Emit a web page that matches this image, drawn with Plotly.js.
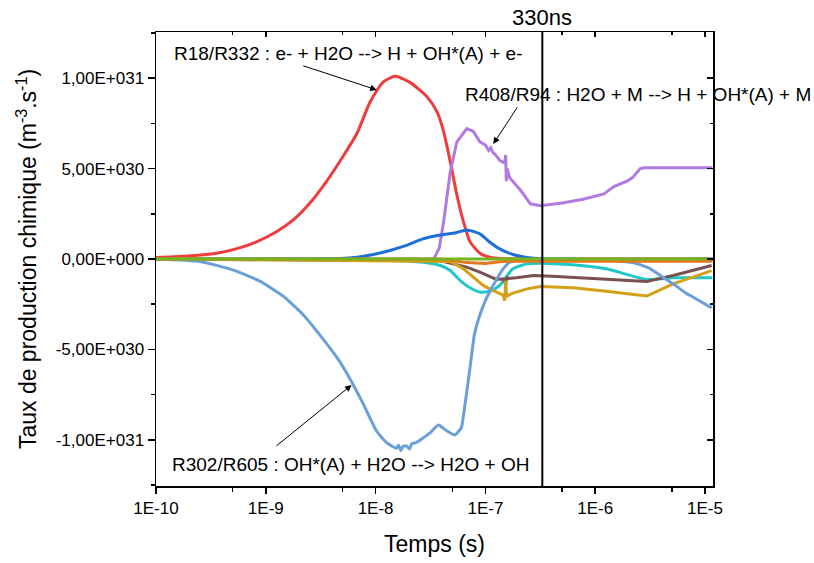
<!DOCTYPE html>
<html>
<head>
<meta charset="utf-8">
<script src="https://cdn.plot.ly/plotly-3.0.1.min.js"></script>
<style>html,body{margin:0;padding:0;background:#fff;}#chart{width:814px;height:563px;}</style>
</head>
<body>
<div id="chart"></div>
<script>
// ---- data (time in s, production rate in m^-3.s^-1) ----
const redT = [1e-10, 1.78e-10, 3.55e-10, 5.37e-10, 8.32e-10, 1.26e-9, 1.78e-9, 2.51e-9, 3.55e-9, 5.13e-9, 6.76e-9, 8.91e-9, 1.17e-8, 1.51e-8, 2.04e-8, 2.95e-8, 3.63e-8, 4.17e-8, 4.79e-8, 5.50e-8, 6.31e-8, 7.24e-8, 8.91e-8, 1.10e-7, 1.41e-7, 3.16e-7, 1.17e-5];
const redV = [0.08e30, 0.15e30, 0.32e30, 0.56e30, 0.96e30, 1.52e30, 2.16e30, 3.08e30, 4.27e30, 5.74e30, 6.94e30, 8.68e30, 9.78e30, 10.1e30, 9.78e30, 8.96e30, 8.13e30, 7.03e30, 5.37e30, 3.54e30, 2.07e30, 0.96e30, 0.32e30, 0.1e30, 0.02e30, 0, 0];

const purpleT = [1e-10, 3.39e-8, 3.80e-8, 4.17e-8, 4.79e-8, 5.50e-8, 6.76e-8, 7.76e-8, 8.91e-8, 1.00e-7, 1.07e-7, 1.12e-7, 1.17e-7, 1.26e-7, 1.35e-7, 1.50e-7, 1.53e-7, 1.55e-7, 1.58e-7, 1.66e-7, 2.09e-7, 2.57e-7, 3.16e-7, 5.01e-7, 7.76e-7, 1.07e-6, 1.20e-6, 1.48e-6, 1.74e-6, 1.95e-6, 2.19e-6, 2.57e-6, 2.85e-6, 1.17e-5];
const purpleV = [0, 0, 0.6e30, 2.07e30, 4.82e30, 6.48e30, 7.21e30, 7.05e30, 6.48e30, 6.3e30, 6.0e30, 6.15e30, 5.9e30, 5.7e30, 5.45e30, 5.3e30, 5.75e30, 4.3e30, 5.0e30, 4.5e30, 3.8e30, 3.05e30, 2.95e30, 3.1e30, 3.3e30, 3.55e30, 3.6e30, 4.0e30, 4.2e30, 4.3e30, 4.5e30, 5.0e30, 5.05e30, 5.05e30];

const blueT = [1e-10, 4.79e-9, 6.76e-9, 9.55e-9, 1.35e-8, 1.91e-8, 2.69e-8, 3.89e-8, 5.37e-8, 6.76e-8, 8.91e-8, 1.10e-7, 1.35e-7, 1.78e-7, 2.40e-7, 3.24e-7, 1.17e-5];
const blueV = [0, 0.03e30, 0.1e30, 0.25e30, 0.47e30, 0.75e30, 1.11e30, 1.33e30, 1.45e30, 1.61e30, 1.39e30, 0.93e30, 0.56e30, 0.25e30, 0.08e30, 0.01e30, 0];

const steelT = [1e-10, 2.51e-10, 5.01e-10, 8.91e-10, 1.45e-9, 2.19e-9, 3.09e-9, 4.47e-9, 5.89e-9, 7.76e-9, 1.02e-8, 1.26e-8, 1.55e-8, 1.62e-8, 1.70e-8, 1.78e-8, 1.91e-8, 2.04e-8, 2.14e-8, 2.34e-8, 2.63e-8, 3.16e-8, 3.72e-8, 4.47e-8, 5.25e-8, 6.03e-8, 6.46e-8, 7.24e-8, 7.94e-8, 8.91e-8, 1.00e-7, 1.12e-7, 1.26e-7, 1.45e-7, 1.66e-7, 2.09e-7, 3.55e-7, 1.07e-6, 2.29e-6, 2.95e-6, 3.16e-6, 4.37e-6, 5.13e-6, 6.76e-6, 7.76e-6, 1.15e-5];
const steelV = [0, -0.14e30, -0.60e30, -1.24e30, -2.07e30, -3.08e30, -4.18e30, -5.47e30, -6.66e30, -8.04e30, -9.51e30, -10.15e30, -10.46e30, -10.3e30, -10.6e30, -10.35e30, -10.34e30, -10.5e30, -10.2e30, -10.15e30, -9.95e30, -9.6e30, -9.18e30, -9.51e30, -9.73e30, -9.33e30, -8.22e30, -6.02e30, -4.18e30, -3.1e30, -2.3e30, -1.7e30, -1.15e30, -0.55e30, -0.18e30, -0.05e30, 0, -0.06e30, -0.22e30, -0.45e30, -0.53e30, -1.1e30, -1.37e30, -1.9e30, -2.1e30, -2.7e30];

const cyanT = [1e-10, 1e-8, 2.69e-8, 3.89e-8, 4.79e-8, 5.89e-8, 7.24e-8, 8.91e-8, 1.10e-7, 1.35e-7, 1.78e-7, 2.40e-7, 3.16e-7, 6.31e-7, 1.26e-6, 2.95e-6, 5.13e-6, 1.17e-5];
const cyanV = [0, -0.05e30, -0.18e30, -0.36e30, -0.64e30, -1.19e30, -1.59e30, -1.83e30, -1.78e30, -1.46e30, -0.54e30, -0.27e30, -0.23e30, -0.32e30, -0.54e30, -1.13e30, -1.04e30, -1.04e30];

const brownT = [1e-10, 3.89e-8, 6.76e-8, 8.91e-8, 1.26e-7, 1.45e-7, 1.50e-7, 1.53e-7, 1.56e-7, 1.62e-7, 1.91e-7, 2.75e-7, 4.47e-7, 1.26e-6, 2.95e-6, 5.13e-6, 1.15e-5];
const brownV = [0, -0.1e30, -0.45e30, -0.73e30, -1.13e30, -1.1e30, -1.2e30, -1.46e30, -1.0e30, -1.08e30, -1.04e30, -0.91e30, -0.97e30, -1.1e30, -1.24e30, -0.91e30, -0.36e30];

const goldT = [1e-10, 4.79e-8, 6.31e-8, 7.76e-8, 9.55e-8, 1.17e-7, 1.45e-7, 1.50e-7, 1.53e-7, 1.56e-7, 1.62e-7, 1.78e-7, 2.40e-7, 3.16e-7, 6.31e-7, 1.26e-6, 2.95e-6, 5.13e-6, 1.15e-5];
const goldV = [0, -0.14e30, -0.54e30, -1.0e30, -1.46e30, -1.74e30, -2.0e30, -2.3e30, -1.2e30, -2.1e30, -2.0e30, -1.89e30, -1.65e30, -1.52e30, -1.59e30, -1.78e30, -2.05e30, -1.37e30, -0.64e30];

const orangeT = [1e-10, 4.07e-8, 6.76e-8, 1.0e-7, 1.35e-7, 1.78e-7, 1.17e-5];
const orangeV = [0, -0.02e30, -0.2e30, -0.25e30, -0.15e30, -0.12e30, -0.12e30];

const greenT = [1e-10, 1.17e-5];
const greenV = [0, 0];

const markerT = [3.3e-7, 3.3e-7];
const markerV = [-1.255e31, 1.255e31];
const markerLabel = '330ns';

const xTickVals = [1e-10, 1e-9, 1e-8, 1e-7, 1e-6, 1e-5];
const xTickText = ['1E-10', '1E-9', '1E-8', '1E-7', '1E-6', '1E-5'];
const xMinorVals = [5e-10, 5e-9, 5e-8, 5e-7, 5e-6];
const yTickVals = [-1e31, -5e30, 0, 5e30, 1e31];
const yTickText = ['-1,00E+031', '-5,00E+030', '0,00E+000', '5,00E+030', '1,00E+031'];

const labelR18 = 'R18/R332 : e- + H2O --> H + OH*(A) + e-';
const labelR408 = 'R408/R94 : H2O + M --> H + OH*(A) + M';
const labelR302 = 'R302/R605 : OH*(A) + H2O --> H2O + OH';

// ---- traces ----
function line(x, y, color, shape, smooth) {
  return {x: x, y: y, type: 'scatter', mode: 'lines', hoverinfo: 'skip', showlegend: false,
          line: {color: color, width: 3, shape: shape || 'linear', smoothing: smooth || 0.6}};
}
const FONT = 'Liberation Sans, Arial, sans-serif';
const data = [
  line(redT, redV, '#f03c3c', 'spline'),
  line(purpleT, purpleV, '#b07ae0'),
  line(blueT, blueV, '#1f6fd8', 'spline'),
  line(cyanT, cyanV, '#1ec8c8', 'spline'),
  line(brownT, brownV, '#7b5050'),
  line(goldT, goldV, '#d4a017'),
  line(steelT, steelV, '#6a9fd8', 'spline', 0.5),
  line(orangeT, orangeV, '#e8741c'),
  line(greenT, greenV, '#74b41c'),
  {x: markerT, y: markerV, type: 'scatter', mode: 'lines', hoverinfo: 'skip', showlegend: false,
   line: {color: '#000', width: 2}},
  {x: [xTickVals[0]], y: [0], xaxis: 'x2', yaxis: 'y2', type: 'scatter', mode: 'markers',
   marker: {opacity: 0}, hoverinfo: 'skip', showlegend: false}
];

const xRange = [-10, -4.927];
const yRange = [-1.255e31, 1.255e31];

const layout = {
  width: 814, height: 563,
  margin: {l: 156, r: 101, t: 32, b: 77},
  paper_bgcolor: '#fff', plot_bgcolor: '#fff',
  showlegend: false,
  font: {family: FONT, color: '#000'},
  xaxis: {
    type: 'log', range: xRange, tickmode: 'array', tickvals: xTickVals, ticktext: xTickText,
    ticks: 'outside', ticklen: 6, tickwidth: 1.5, tickcolor: '#000',
    showline: true, linewidth: 1.5, linecolor: '#000', mirror: true,
    showgrid: false, zeroline: false,
    tickfont: {size: 17, family: FONT},
    minor: {tickmode: 'array', tickvals: xMinorVals, ticks: 'outside', ticklen: 4, tickwidth: 1.5, tickcolor: '#000', showgrid: false},
    title: {text: 'Temps (s)', font: {size: 23, family: FONT}, standoff: 19}
  },
  yaxis: {
    range: yRange, tickmode: 'array', tickvals: yTickVals, ticktext: yTickText,
    ticks: 'outside', ticklen: 7, tickwidth: 1.5, tickcolor: '#000',
    showline: true, linewidth: 1.5, linecolor: '#000', mirror: true,
    showgrid: false, zeroline: false,
    tickfont: {size: 17, family: FONT},
    minor: {dtick: 2.5e30, tick0: 0, ticks: 'outside', ticklen: 4, tickwidth: 1.5, tickcolor: '#000', showgrid: false},
    title: {text: 'Taux de production chimique (m<sup>-3</sup>.s<sup>-1</sup>)', font: {size: 23, family: FONT}, standoff: 12}
  },
  xaxis2: {
    type: 'log', range: xRange, overlaying: 'x', side: 'top', anchor: 'y2',
    tickmode: 'array', tickvals: xTickVals, showticklabels: false,
    ticks: 'inside', ticklen: 5, tickwidth: 1.5, tickcolor: '#000',
    showline: false, showgrid: false, zeroline: false,
    minor: {tickmode: 'array', tickvals: xMinorVals, ticks: 'inside', ticklen: 3, tickwidth: 1.5, tickcolor: '#000', showgrid: false}
  },
  yaxis2: {
    range: yRange, overlaying: 'y', side: 'right', anchor: 'x2',
    tickmode: 'array', tickvals: yTickVals, showticklabels: false,
    ticks: 'inside', ticklen: 6, tickwidth: 1.5, tickcolor: '#000',
    showline: false, showgrid: false, zeroline: false,
    minor: {dtick: 2.5e30, tick0: 0, ticks: 'inside', ticklen: 3, tickwidth: 1.5, tickcolor: '#000', showgrid: false}
  },
  annotations: [
    {text: markerLabel, xref: 'x', yref: 'paper', x: Math.log10(markerT[0]), y: 1, yanchor: 'bottom', xanchor: 'center',
     showarrow: false, font: {size: 22, family: FONT}},
    {text: labelR18, xref: 'paper', yref: 'paper', x: 0.0287, y: 0.9526, xanchor: 'left', yanchor: 'middle',
     showarrow: false, font: {size: 19, family: FONT}},
    {text: labelR408, xref: 'paper', yref: 'paper', x: 0.552, y: 0.862, xanchor: 'left', yanchor: 'middle',
     showarrow: false, font: {size: 19, family: FONT}},
    {text: labelR302, xref: 'paper', yref: 'paper', x: 0.0248, y: 0.0469, xanchor: 'left', yanchor: 'middle',
     showarrow: false, font: {size: 19, family: FONT}},
    {text: '', xref: 'x', yref: 'y', x: -7.99, y: 9.35e30, ax: -75, ay: -24.6, showarrow: true,
     arrowhead: 2, arrowsize: 1.3, arrowwidth: 1, arrowcolor: '#000'},
    {text: '', xref: 'x', yref: 'y', x: -6.928, y: 6.36e30, ax: 24.9, ay: -38.1, showarrow: true,
     arrowhead: 2, arrowsize: 1.3, arrowwidth: 1, arrowcolor: '#000'},
    {text: '', xref: 'x', yref: 'y', x: -8.219, y: -6.97e30, ax: -76.6, ay: 62, showarrow: true,
     arrowhead: 2, arrowsize: 1.3, arrowwidth: 1, arrowcolor: '#000'}
  ]
};

Plotly.newPlot('chart', data, layout, {displayModeBar: false, staticPlot: true});
</script>
</body>
</html>
